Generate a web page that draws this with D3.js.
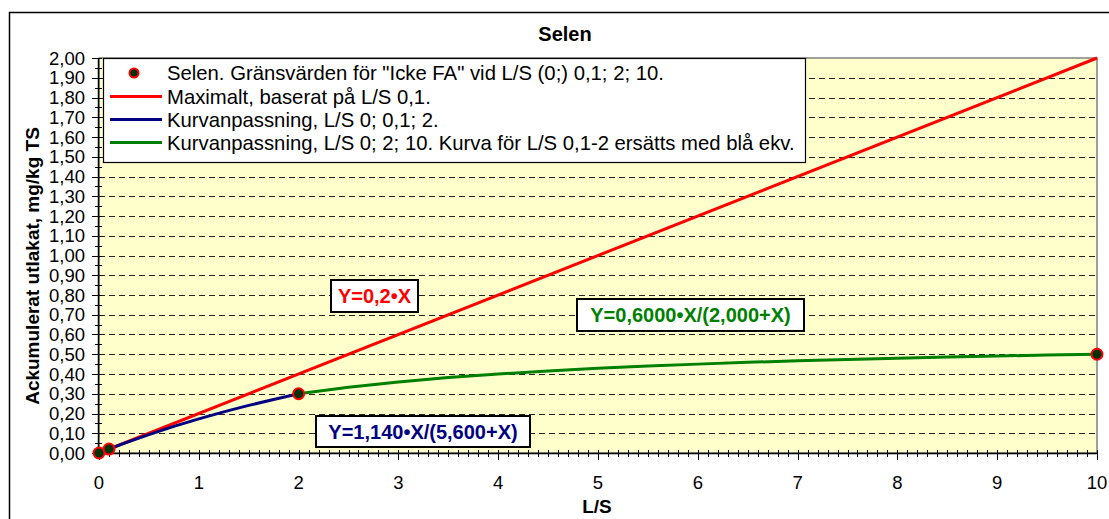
<!DOCTYPE html>
<html><head><meta charset="utf-8">
<script src="https://cdn.jsdelivr.net/npm/d3@7"></script>
<style>body{margin:0;background:#fff}svg{display:block;font-family:"Liberation Sans",Arial,sans-serif}</style>
</head><body><svg id="c" width="1109" height="519"></svg>
<script>
const xTicks=[0,1,2,3,4,5,6,7,8,9,10];
const yTicks=[0,0.1,0.2,0.3,0.4,0.5,0.6,0.7,0.8,0.9,1.0,1.1,1.2,1.3,1.4,1.5,1.6,1.7,1.8,1.9,2.0];
const pointX=[0,0.1,2,10];
const pointY=[0,0.02,0.30,0.50];
const redX=[0,10];
const redY=[0,2.0];
const blueX=[0,0.1,0.25,0.5,0.75,1,1.25,1.5,1.75,2];
const blueY=[0,0.020,0.049,0.093,0.135,0.173,0.208,0.241,0.271,0.30];
const greenX=[2,2.5,3,3.5,4,4.5,5,5.5,6,6.5,7,7.5,8,8.5,9,9.5,10];
const greenY=[0.30,0.333,0.36,0.382,0.40,0.415,0.429,0.44,0.45,0.459,0.467,0.474,0.48,0.486,0.491,0.496,0.50];
const legendLabels=["Selen. Gränsvärden för \"Icke FA\" vid L/S (0;) 0,1; 2; 10.","Maximalt, baserat på L/S 0,1.","Kurvanpassning, L/S 0; 0,1; 2.","Kurvanpassning, L/S 0; 2; 10. Kurva för L/S 0,1-2 ersätts med blå ekv."];
const colors={red:"#FF0000",blue:"#000080",green:"#008000",dot:"#003300"};

const svg=d3.select("#c");
const L=99,R=1097,T=58,B=453;
const x=d3.scaleLinear().domain([0,10]).range([L,R]);
const y=d3.scaleLinear().domain([0,2]).range([B,T]);
const fmt=v=>d3.format(".2f")(v).replace(".",",");

// outer border
svg.append("rect").attr("x",9.5).attr("y",12.5).attr("width",1120).attr("height",520).attr("fill","#fff").attr("stroke","#000").attr("stroke-width",1.5);
// plot bg
svg.append("rect").attr("x",L).attr("y",T).attr("width",R-L).attr("height",B-T).attr("fill","#FFFFCC").attr("stroke","#808080").attr("stroke-width",1.5);
// grid
svg.append("g").selectAll("line").data(yTicks.filter(v=>v>0&&v<2)).join("line")
 .attr("x1",L).attr("x2",R).attr("y1",d=>Math.round(y(d))+0.5).attr("y2",d=>Math.round(y(d))+0.5)
 .attr("stroke","#000").attr("stroke-width",1).attr("stroke-dasharray","6,4").attr("opacity",0.85);

// axes
const xMinor=d3.range(0,101).map(i=>i/10);
const yMinor=d3.range(0,41).map(i=>i/20);
const ax=svg.append("g");
ax.append("line").attr("x1",L).attr("x2",R).attr("y1",B+0.5).attr("y2",B+0.5).attr("stroke","#000").attr("stroke-width",1.5);
ax.append("line").attr("x1",L-0.5).attr("x2",L-0.5).attr("y1",T).attr("y2",B).attr("stroke","#000").attr("stroke-width",1.5);
ax.selectAll(".xm").data(xMinor).join("line").attr("x1",d=>Math.round(x(d))+0.5).attr("x2",d=>Math.round(x(d))+0.5).attr("y1",B-3).attr("y2",B+4).attr("stroke","#000");
ax.selectAll(".xM").data(xTicks).join("line").attr("x1",d=>Math.round(x(d))+0.5).attr("x2",d=>Math.round(x(d))+0.5).attr("y1",B-2).attr("y2",B+7).attr("stroke","#000");
ax.selectAll(".ym").data(yMinor).join("line").attr("y1",d=>Math.round(y(d))+0.5).attr("y2",d=>Math.round(y(d))+0.5).attr("x1",L-4).attr("x2",L+3).attr("stroke","#000");
ax.selectAll(".yM").data(yTicks).join("line").attr("y1",d=>Math.round(y(d))+0.5).attr("y2",d=>Math.round(y(d))+0.5).attr("x1",L-7).attr("x2",L).attr("stroke","#000");
ax.selectAll(".xl").data(xTicks).join("text").attr("x",d=>x(d)).attr("y",489).attr("text-anchor","middle").attr("font-size",18.5).text(d=>d);
ax.selectAll(".yl").data(yTicks).join("text").attr("x",85).attr("y",d=>y(d)+6.5).attr("text-anchor","end").attr("font-size",18.5).text(fmt);

// titles
svg.append("text").attr("x",565).attr("y",41).attr("text-anchor","middle").attr("font-weight","bold").attr("font-size",20).text("Selen");
svg.append("text").attr("x",597).attr("y",513).attr("text-anchor","middle").attr("font-weight","bold").attr("font-size",19).text("L/S");
svg.append("text").attr("transform",`translate(39,266) rotate(-90)`).attr("text-anchor","middle").attr("font-weight","bold").attr("font-size",19).text("Ackumulerat utlakat, mg/kg TS");

// lines
const line=d3.line().x(d=>x(d[0])).y(d=>y(d[1]));
const series=[[redX,redY,colors.red],[blueX,blueY,colors.blue],[greenX,greenY,colors.green]];
series.forEach(([xs,ys,c])=>{
 svg.append("path").datum(xs.map((v,i)=>[v,ys[i]])).attr("d",line).attr("fill","none").attr("stroke",c).attr("stroke-width",3).attr("stroke-linejoin","round");
});
// points
svg.append("g").selectAll("circle").data(pointX.map((v,i)=>[v,pointY[i]])).join("circle")
 .attr("cx",d=>x(d[0])).attr("cy",d=>y(d[1])).attr("r",5.5).attr("fill",colors.dot).attr("stroke",colors.red).attr("stroke-width",2);

// legend
const lg=svg.append("g");
lg.append("rect").attr("x",103.5).attr("y",58.5).attr("width",702).attr("height",104).attr("fill","#fff").attr("stroke","#000").attr("stroke-width",1.2);
const ly=[73,96.5,119.5,142.5];
legendLabels.forEach((t,i)=>{
 lg.append("text").attr("x",167).attr("y",ly[i]+7).attr("font-size",20.3).text(t);
});
lg.append("circle").attr("cx",134).attr("cy",ly[0]).attr("r",4.5).attr("fill",colors.dot).attr("stroke",colors.red).attr("stroke-width",2);
[colors.red,colors.blue,colors.green].forEach((c,i)=>{
 lg.append("line").attr("x1",110).attr("x2",162).attr("y1",ly[i+1]).attr("y2",ly[i+1]).attr("stroke",c).attr("stroke-width",3);
});

// annotations
const ann=[
 {t:"Y=0,2•X",c:colors.red,x0:331,y0:280,w:87,h:32},
 {t:"Y=0,6000•X/(2,000+X)",c:colors.green,x0:577,y0:299,w:227,h:32},
 {t:"Y=1,140•X/(5,600+X)",c:colors.blue,x0:316,y0:416,w:214,h:31}
];
ann.forEach(a=>{
 svg.append("rect").attr("x",a.x0).attr("y",a.y0).attr("width",a.w).attr("height",a.h).attr("fill","#fff").attr("stroke","#000").attr("stroke-width",2);
 svg.append("text").attr("x",a.x0+a.w/2).attr("y",a.y0+a.h/2+7).attr("text-anchor","middle").attr("font-weight","bold").attr("font-size",20).attr("fill",a.c).text(a.t);
});
</script></body></html>
